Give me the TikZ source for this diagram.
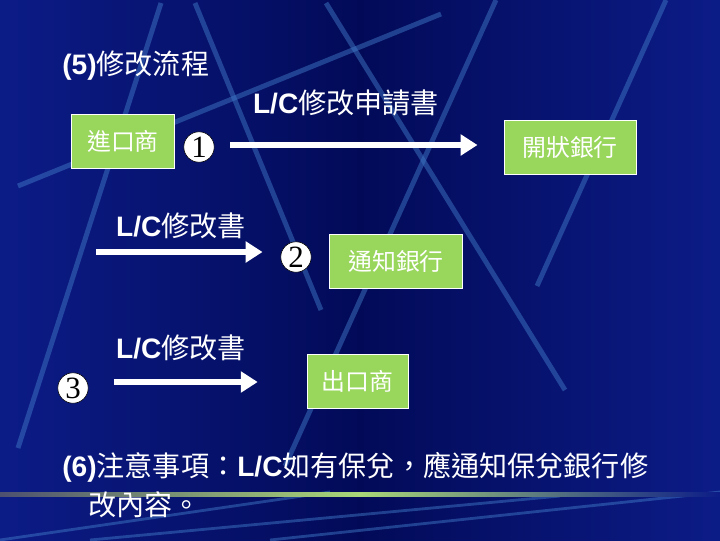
\documentclass[tikz,border=0pt]{standalone}
\usepackage{fontspec}
\setmainfont{Liberation Sans}
\newfontfamily\cjk{Noto Sans CJK TC}
\newfontfamily\numfont{Liberation Serif}
\usepackage{tikz}
\usetikzlibrary{arrows.meta,positioning}

\definecolor{slidebg}{RGB}{2,10,88}
\definecolor{slidebgside}{RGB}{12,28,135}
\definecolor{bgline}{RGB}{62,118,196}
\definecolor{boxgreen}{RGB}{153,214,92}
\definecolor{rulegreen}{RGB}{170,215,120}

\newcommand{\lcdoc}[1]{{\bfseries L/C}{\cjk #1}}

\begin{document}
\begin{tikzpicture}[
  x=0.025cm, y=-0.025cm,
  lbl/.style={text=white, inner sep=0pt, font=\fontsize{20}{26}\selectfont},
  bx/.style={draw=white, line width=0.7pt, fill=boxgreen, text=white,
    inner sep=0pt, minimum height=1.35cm, font=\cjk\fontsize{17}{20}\selectfont},
  num/.style={circle, fill=white, draw=black, line width=0.4pt, inner sep=0pt,
    minimum size=0.76cm, font=\numfont\fontsize{22}{22}\selectfont},
  arr/.style={white, line width=4.3pt, -{Triangle[length=12pt, width=14.5pt]}},
  deco/.style={bgline, line width=3.5pt, opacity=0.5}
]
% slide background
\useasboundingbox (0,0) rectangle (720,540);
\shade[left color=slidebgside, right color=slidebgside, middle color=slidebg]
  (0,0) rectangle (720,540);
\draw[deco] (441,14) -- (18,186);
\draw[deco] (161,3) -- (18,448);
\draw[deco] (195,3) -- (321,310);
\draw[deco] (326,3) -- (565,390);
\draw[deco] (496,0) -- (285,466);
\draw[deco] (666,0) -- (537,286);
\draw[deco, line width=2pt] (0,540) -- (330,492);
\draw[deco, line width=2pt] (90,540) -- (560,496);
\draw[deco, line width=2pt] (270,540) -- (720,492);
\shade[left color=gray!60!slidebg, right color=rulegreen] (0,492) rectangle (360,496);
\shade[left color=rulegreen, right color=slidebgside] (360,492) rectangle (720,496);

% headings
\node[lbl, anchor=west] (head) at (62,66) {{\bfseries (5)}{\cjk 修改流程}};
\node[lbl] (req) at (346,103) {\lcdoc{修改申請書}};

% parties
\node[bx, minimum width=2.55cm] (imp) at (123,141) {進口商};
\node[bx, minimum width=3.3cm] (iss) at (570,147.5) {開狀銀行};
\node[bx, minimum width=3.3cm] (adv) at (396,261) {通知銀行};
\node[bx, minimum width=2.525cm] (exp) at (357.5,381) {出口商};

% steps
\node[num] (s1) at (199,147) {1};
\node[num] (s2) at (296,257) {2};
\node[num] (s3) at (73,388) {3};

\node[lbl] (amd1) at (181,226) {\lcdoc{修改書}};
\node[lbl] (amd2) at (181,348) {\lcdoc{修改書}};

\coordinate (a2) at (96,252);
\coordinate (a3) at (114,382);
\draw[arr, shorten <=0.4cm, shorten >=0.65cm] (s1.east |- 0,145) -- (iss.west |- 0,145);
\draw[arr, shorten >=0.45cm] (a2) -- (s2.west |- a2);
\draw[arr, shorten >=1.22cm] (a3) -- (exp.west |- a3);

% note
\node[lbl, anchor=west] (note1) at (62,467)
  {{\bfseries (6)}{\cjk 注意事項：}{\bfseries L/C}{\cjk 如有保兌，應通知保兌銀行修}};
\node[lbl, anchor=west] (note2) at (88,505) {{\cjk 改內容。}};
\end{tikzpicture}
\end{document}
